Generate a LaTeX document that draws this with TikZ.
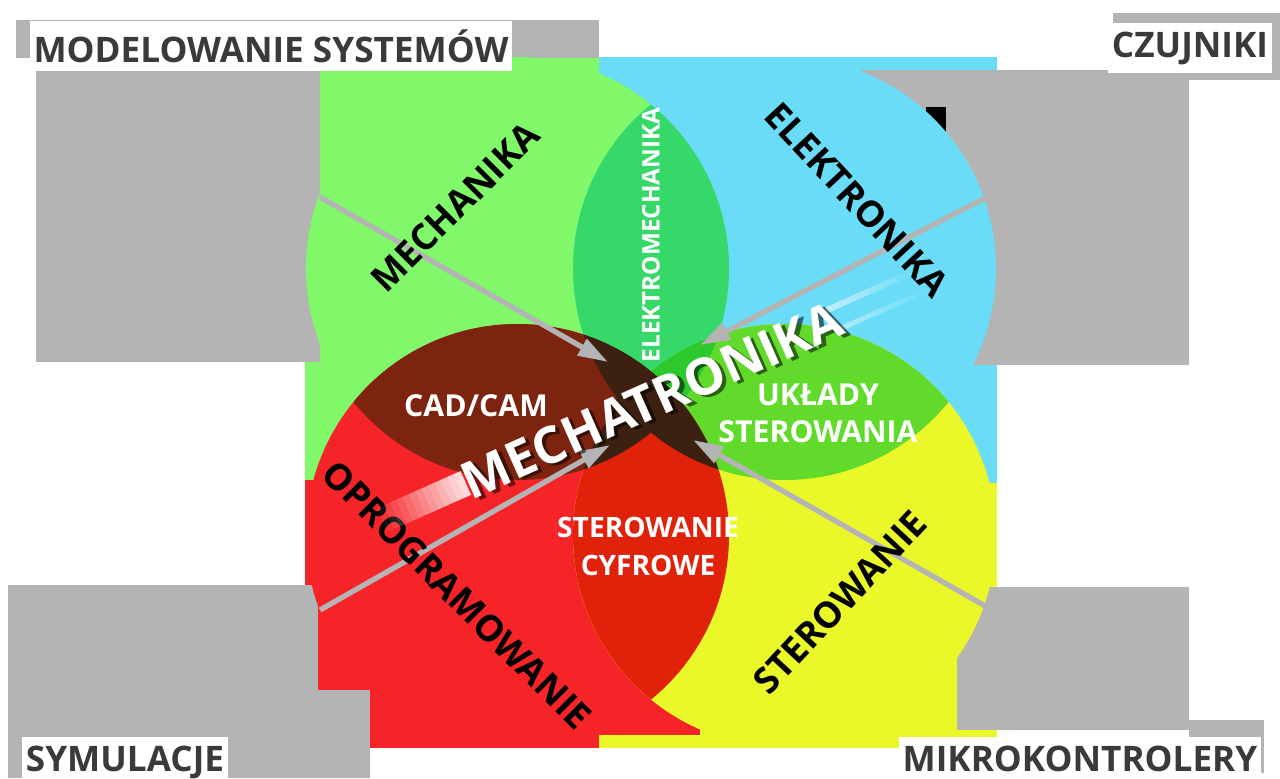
\documentclass[tikz,border=0pt]{standalone}
\usepackage{fontspec}
\setmainfont{Open Sans}
\usetikzlibrary{arrows.meta}

\definecolor{mechgreen}{HTML}{80F86A}
\definecolor{elecblue}{HTML}{6ADCF8}
\definecolor{softred}{HTML}{F42428}
\definecolor{ctrlyellow}{HTML}{EAF82A}
\definecolor{emgreen}{HTML}{36D86A}
\definecolor{usgreen}{HTML}{62DA2C}
\definecolor{tipgreen}{HTML}{2CC82C}
\definecolor{scred}{HTML}{E0220A}
\definecolor{cadbrown}{HTML}{7C2410}
\definecolor{coredark}{HTML}{3C2010}
\definecolor{boxgrey}{HTML}{B4B4B4}
\definecolor{labelgrey}{HTML}{3A3A3A}

\tikzset{
  field/.style={font=\bfseries\fontsize{10.3}{12}\selectfont, text=black, inner sep=0pt},
  overlap/.style={font=\bfseries\fontsize{8.6}{10.6}\selectfont, text=white, inner sep=0pt, align=center},
  corner/.style={font=\bfseries\fontsize{10}{12}\selectfont, text=labelgrey, fill=white, inner xsep=1pt, inner ysep=2.5pt},
  feed/.style={draw=boxgrey, line width=1.5pt, -{Triangle[length=3mm,width=1.8mm]}},
  core/.style={font=\bfseries\fontsize{14.5}{16}\selectfont, inner sep=0pt},
}

\begin{document}
\begin{tikzpicture}
\useasboundingbox (0,0) rectangle (12.8,7.78);

% quadrants behind the circles
\fill[ctrlyellow] (5.99,0.30) rectangle (9.97,3.90);
\fill[softred] (3.05,0.30) rectangle (5.99,3.90);
\fill[softred] (5.99,0.43) rectangle (7.00,1.60);
\fill[elecblue] (5.99,2.95) rectangle (9.97,7.21);
\fill[mechgreen] (3.05,2.98) rectangle (5.99,7.21);

% grey boxes in the corners
\fill[boxgrey] (0.36,7.13) rectangle (3.20,4.16);
\fill[boxgrey] (8.60,7.08) rectangle (11.89,4.13);
\fill[boxgrey] (0.08,1.93) rectangle (3.18,0);
\fill[boxgrey] (3.18,0.88) rectangle (3.70,0);
\fill[boxgrey] (9.57,1.91) rectangle (11.89,0.48);
\fill[boxgrey] (11.89,0.58) rectangle (12.64,0.05);
\fill[boxgrey] (0.16,7.58) rectangle (5.99,7.20);
\fill[boxgrey] (11.13,7.65) rectangle (12.80,6.98);
\fill (9.26,6.71) rectangle (9.46,6.43);

% the four circles
\fill[mechgreen] (5.175,5.095) circle (2.115);
\fill[elecblue] (7.845,5.095) circle (2.115);
\fill[softred] (5.175,2.425) circle (2.115);
\fill[ctrlyellow] (7.845,2.425) circle (2.115);

% overlaps
\begin{scope}
  \clip (5.175,5.095) circle (2.115);
  \fill[emgreen] (7.845,5.095) circle (2.115);
  \fill[cadbrown] (5.175,2.425) circle (2.115);
\end{scope}
\begin{scope}
  \clip (7.845,2.425) circle (2.115);
  \fill[usgreen] (7.845,5.095) circle (2.115);
  \fill[scred] (5.175,2.425) circle (2.115);
\end{scope}
\begin{scope}
  \clip (5.175,5.095) circle (2.115);
  \clip (7.845,2.425) circle (2.115);
  \fill[tipgreen] (7.845,5.095) circle (2.115);
  \fill[coredark] (5.175,2.425) circle (2.115);
\end{scope}
\begin{scope}
  \clip (7.845,5.095) circle (2.115);
  \fill[coredark] (5.175,2.425) circle (2.115);
\end{scope}

% arrows to the middle
\coordinate (mechfeed) at (3.20,5.81);
\coordinate (mechtip) at (6.08,4.16);
\coordinate (elecfeed) at (9.87,5.81);
\coordinate (electip) at (7.00,4.33);
\coordinate (ctrlfeed) at (9.87,1.71);
\coordinate (ctrltip) at (6.93,3.38);
\coordinate (softfeed) at (3.20,1.68);
\coordinate (softtip) at (6.10,3.33);
\draw[feed] (mechfeed) -- (mechtip);
\draw[feed] (elecfeed) -- (electip);
\draw[feed] (ctrlfeed) -- (ctrltip);
\draw[feed] (softfeed) -- (softtip);

% fields
\node[field, rotate=45] (mech) at (4.55,5.71) {MECHANIKA};
\node[field, rotate=-47] (elec) at (8.57,5.78) {ELEKTRONIKA};
\node[field, rotate=-45] (soft) at (4.57,1.83) {OPROGRAMOWANIE};
\node[field, rotate=47] (ctrl) at (8.40,1.76) {STEROWANIE};

% overlaps
\node[overlap, rotate=90, font=\bfseries\fontsize{6.9}{8}\selectfont] (elmech) at (6.51,5.43) {ELEKTROMECHANIKA};
\node[overlap] (cadcam) at (4.76,3.72) {CAD/CAM};
\node[overlap] (uklady) at (8.18,3.65) {UKŁADY\\STEROWANIA};
\node[overlap, font=\bfseries\fontsize{8}{10.8}\selectfont] (cyfrowe) at (6.48,2.32) {STEROWANIE\\CYFROWE};

% middle
\begin{scope}[shift={(6.52,3.78)}, rotate=24, transform shape]
  \foreach \i [evaluate=\i as \o using 0.065*\i] in {0,...,13}
    \fill[white, opacity=\o] ({-3.02+0.07*\i},-0.13) rectangle ++(0.071,0.26);
  \foreach \i [evaluate=\i as \o using 0.55-0.04*\i] in {0,...,13}
    \fill[white, opacity=\o] ({1.95+0.07*\i},0.08) rectangle ++(0.071,0.06);
  \foreach \i [evaluate=\i as \o using 0.45-0.032*\i] in {0,...,13}
    \fill[white, opacity=\o] ({1.98+0.07*\i},-0.14) rectangle ++(0.071,0.05);
  \node[core, text=black, opacity=0.55] (mechashade) at (0.03,-0.035) {MECHATRONIKA};
  \node[core, text=white] (mecha) at (0,0) {MECHATRONIKA};
\end{scope}

% corner labels
\node[corner] (modsys) at (2.71,7.32) {MODELOWANIE SYSTEMÓW};
\node[corner] (sensors) at (11.90,7.30) {CZUJNIKI};
\node[corner] (simul) at (1.25,0.16) {SYMULACJE};
\node[corner] (micro) at (10.80,0.19) {MIKROKONTROLERY};
\end{tikzpicture}
\end{document}
